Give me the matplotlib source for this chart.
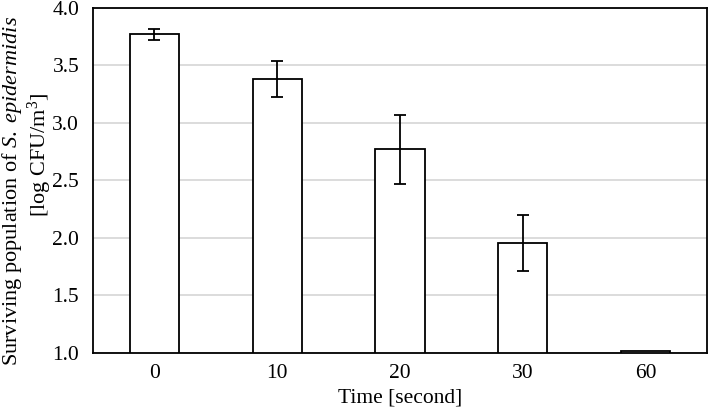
import numpy as np
import matplotlib
matplotlib.use('Agg')
import matplotlib.pyplot as plt

plt.rcParams['font.family'] = ['Liberation Serif', 'DejaVu Serif']
plt.rcParams['mathtext.fontset'] = 'custom'
plt.rcParams['mathtext.rm'] = 'Liberation Serif'
plt.rcParams['mathtext.it'] = 'Liberation Serif:italic'

# данные
times = ['0', '10', '20', '30', '60']
survival = [3.77, 3.38, 2.77, 1.955, 1.018]
errors = [0.05, 0.155, 0.30, 0.245, 0.0]

fig = plt.figure(figsize=(7.08, 4.12), dpi=100)
ax = fig.add_axes([0.1314, 0.1439, 0.8672, 0.8367])

x = np.arange(len(times))
base = 1.0
heights = [v - base for v in survival]
ax.bar(x, heights, bottom=base, width=0.4, color='white', edgecolor='black',
       linewidth=1.3, zorder=3)
ax.errorbar(x[:4], survival[:4], yerr=errors[:4], fmt='none', ecolor='black',
            elinewidth=1.3, capsize=4.5, capthick=1.3, zorder=4)

ax.set_xlim(-0.5, len(times) - 0.5)
ax.set_ylim(1.0, 4.0)
ax.set_yticks([1.0, 1.5, 2.0, 2.5, 3.0, 3.5, 4.0])
ax.set_yticklabels(['1.0', '1.5', '2.0', '2.5', '3.0', '3.5', '4.0'])
ax.set_xticks(x)
ax.set_xticklabels(times)
ax.tick_params(axis='y', length=0, labelsize=15.5, pad=10)
ax.tick_params(axis='x', length=0, labelsize=15.5, pad=8)
ax.yaxis.grid(True, color='#d9d9d9', linewidth=1.3, zorder=0)
ax.set_axisbelow(True)
for s in ax.spines.values():
    s.set_linewidth(1.3)
    s.set_color('black')

ax.set_xlabel('Time [second]', fontsize=15.5, labelpad=4)

# подпись оси y в две строки
fig.text(12 / 708, 1 - 191 / 412,
         'Surviving population of $\\mathit{S.}$ $\\mathit{epidermidis}$',
         rotation=90, ha='center', va='center', fontsize=16)
fig.text(40 / 708, 1 - 155 / 412, '[log CFU/m$^3$]',
         rotation=90, ha='center', va='center', fontsize=16)

fig.savefig('out.png', dpi=100)
